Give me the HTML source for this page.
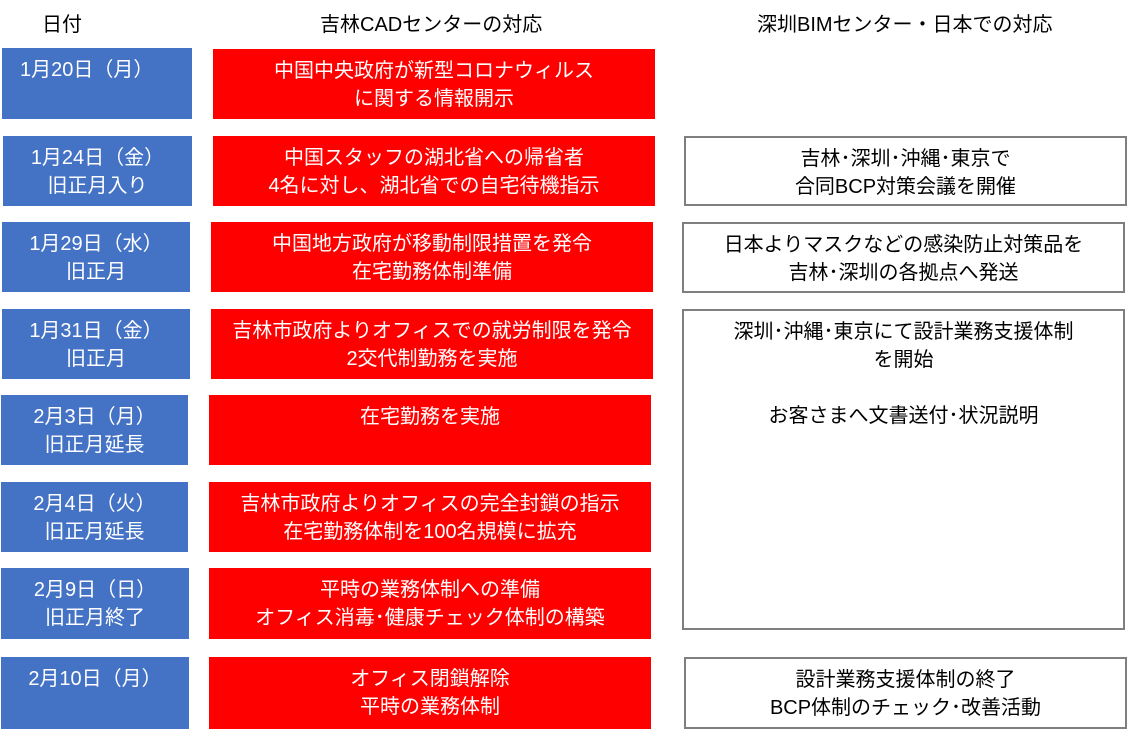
<!DOCTYPE html>
<html><head><meta charset="utf-8"><style>
body{margin:0;width:1128px;height:736px;background:#fff;position:relative;overflow:hidden;font-family:"Liberation Sans","Noto Sans CJK JP",sans-serif;}
div.b{position:absolute;box-sizing:border-box;font-size:20px;line-height:28px;text-align:center;}
.bl{background:#4472c4;color:#fff;padding-top:8px;}
.rd{background:#f00;color:#fff;padding-top:8px;}
.wh{background:#fff;border:2px solid #7f7f7f;color:#000;padding-top:7px;}
.h{position:absolute;font-size:20px;color:#000;top:8px;}
</style></head><body>
<div class="h" style="left:42px">日付</div>
<div class="h" style="left:320px">吉林CADセンターの対応</div>
<div class="h" style="left:757px">深圳BIMセンター・日本での対応</div>

<div class="b bl" style="left:2px;top:48px;width:190px;height:71px;text-align:left;padding-left:18px">1月20日（月）</div>
<div class="b rd" style="left:213px;top:49px;width:442px;height:70px">中国中央政府が新型コロナウィルス<br>に関する情報開示</div>

<div class="b bl" style="left:3px;top:136px;width:189px;height:70px">1月24日（金）<br>旧正月入り</div>
<div class="b rd" style="left:213px;top:136px;width:442px;height:70px">中国スタッフの湖北省への帰省者<br>4名に対し、湖北省での自宅待機指示</div>
<div class="b wh" style="left:684px;top:136px;width:443px;height:70px">吉林･深圳･沖縄･東京で<br>合同BCP対策会議を開催</div>

<div class="b bl" style="left:2px;top:222px;width:188px;height:70px">1月29日（水）<br>旧正月</div>
<div class="b rd" style="left:211px;top:222px;width:442px;height:70px">中国地方政府が移動制限措置を発令<br>在宅勤務体制準備</div>
<div class="b wh" style="left:682px;top:222px;width:443px;height:71px">日本よりマスクなどの感染防止対策品を<br>吉林･深圳の各拠点へ発送</div>

<div class="b bl" style="left:2px;top:309px;width:188px;height:70px">1月31日（金）<br>旧正月</div>
<div class="b rd" style="left:211px;top:309px;width:442px;height:70px">吉林市政府よりオフィスでの就労制限を発令<br>2交代制勤務を実施</div>
<div class="b wh" style="left:682px;top:309px;width:443px;height:321px">深圳･沖縄･東京にて設計業務支援体制<br>を開始<br><br>お客さまへ文書送付･状況説明</div>

<div class="b bl" style="left:1px;top:395px;width:187px;height:70px">2月3日（月）<br>旧正月延長</div>
<div class="b rd" style="left:209px;top:395px;width:442px;height:70px">在宅勤務を実施</div>

<div class="b bl" style="left:1px;top:482px;width:187px;height:70px">2月4日（火）<br>旧正月延長</div>
<div class="b rd" style="left:209px;top:482px;width:442px;height:70px">吉林市政府よりオフィスの完全封鎖の指示<br>在宅勤務体制を100名規模に拡充</div>

<div class="b bl" style="left:1px;top:568px;width:188px;height:71px">2月9日（日）<br>旧正月終了</div>
<div class="b rd" style="left:209px;top:568px;width:442px;height:71px">平時の業務体制への準備<br>オフィス消毒･健康チェック体制の構築</div>

<div class="b bl" style="left:1px;top:657px;width:188px;height:72px">2月10日（月）</div>
<div class="b rd" style="left:209px;top:657px;width:442px;height:72px">オフィス閉鎖解除<br>平時の業務体制</div>
<div class="b wh" style="left:684px;top:657px;width:443px;height:72px">設計業務支援体制の終了<br>BCP体制のチェック･改善活動</div>
</body></html>
